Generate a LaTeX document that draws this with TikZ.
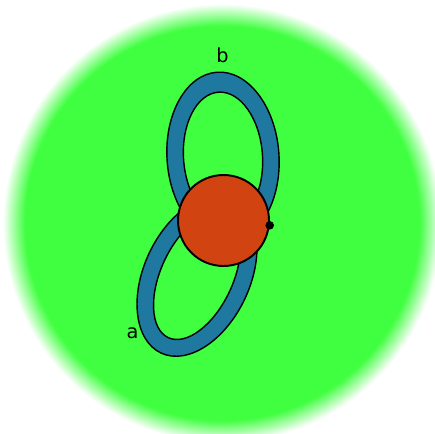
\documentclass[tikz,border=0pt]{standalone}
\usepackage{fontspec}
\setmainfont{DejaVu Sans}
\usepackage{tikz}
\usetikzlibrary{positioning}

\definecolor{glow}{RGB}{64,255,64}
\definecolor{ringblue}{RGB}{31,120,160}
\definecolor{coreorange}{RGB}{210,67,18}
\pgfdeclareradialshading{greenglow}{\pgfpoint{0bp}{0bp}}{color(0bp)=(glow); color(22.3bp)=(glow); color(24.8bp)=(white); color(50bp)=(white)}

\begin{document}
\begin{tikzpicture}[x=0.02cm, y=-0.02cm,
    ring/.style={fill=ringblue, draw=black, line width=0.8pt, even odd rule},
    coredisk/.style={circle, fill=coreorange, draw=black, line width=1.1pt,
                     inner sep=0pt, minimum size=1.82cm},
    lbl/.style={font=\fontsize{11}{13}\selectfont, inner sep=0pt}]
  \useasboundingbox (0,0) rectangle (435,433);
  \shade[shading=greenglow] (222,223) circle [radius=221];
  % loop a, then loop b
  \draw[ring, rotate around={-25:(197,276)}]
    (197,276) ellipse [x radius=53, y radius=85]
    (197,276) ellipse [x radius=36, y radius=68];
  \draw[ring, rotate around={4:(223,157)}]
    (223,157) ellipse [x radius=56, y radius=85]
    (223,157) ellipse [x radius=39.5, y radius=65];
  \node (core) [coredisk] at (223.5,220.5) {};
  \fill (core.-6) circle [radius=4.3];
  \node (lbla) [lbl] at (132.5,333.5) {a};
  \node (lblb) [lbl] at (222.5,55.5) {b};
\end{tikzpicture}
\end{document}
